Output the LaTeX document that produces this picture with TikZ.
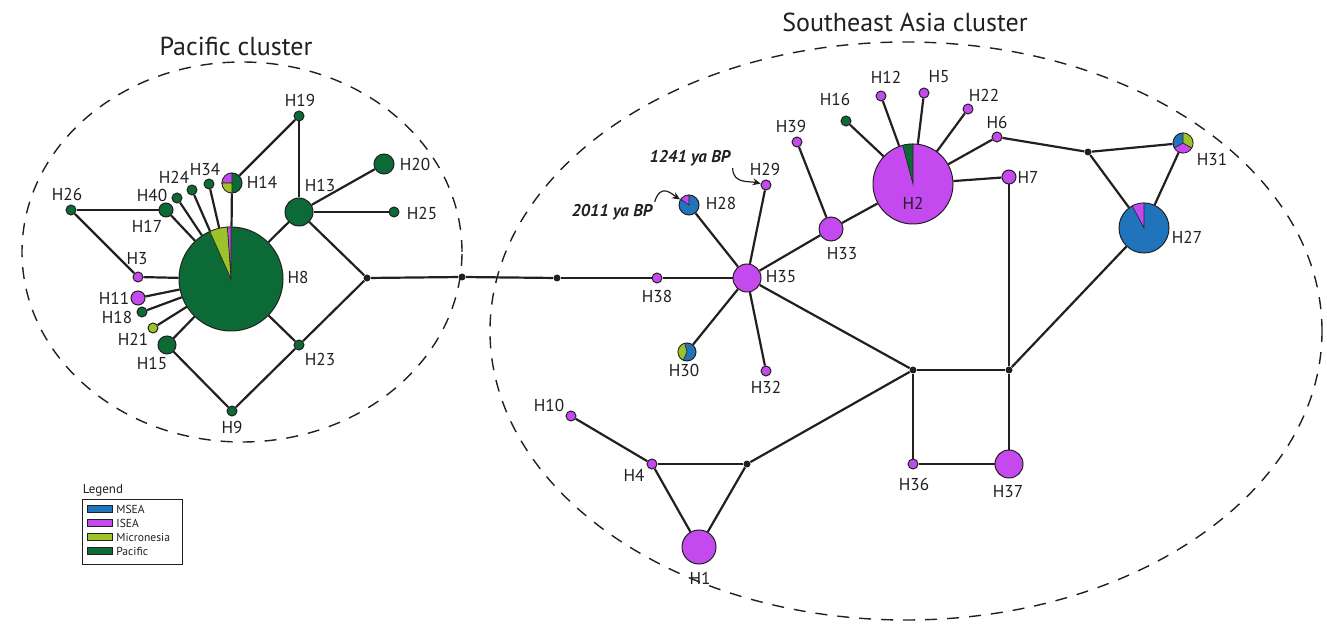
\documentclass[tikz,border=0pt]{standalone}
\usepackage{fontspec}
\setmainfont{PT Sans}
\usetikzlibrary{arrows.meta}

\definecolor{msea}{RGB}{31,116,187}
\definecolor{isea}{RGB}{196,74,240}
\definecolor{micro}{RGB}{157,195,42}
\definecolor{pac}{RGB}{11,106,54}
\definecolor{ink}{RGB}{35,31,32}

\tikzset{
  hap/.style={circle, draw=ink, line width=0.5pt, inner sep=0pt},
  junc/.style={circle, fill=ink, inner sep=0pt, minimum size=3.5pt},
  edge/.style={draw=ink, line width=1.1pt},
  cluster/.style={draw=ink, line width=0.7pt, dash pattern=on 6pt off 5pt},
  lbl/.style={font=\fontsize{8.6}{10}\selectfont, text=ink, inner sep=0pt},
  title/.style={font=\fontsize{13}{15}\selectfont, text=ink},
  datelbl/.style={font=\fontsize{8.5}{10}\selectfont\bfseries\itshape, text=ink, inner sep=1pt},
  swatch/.style={rectangle, draw=ink, line width=0.4pt, minimum width=12.5pt, minimum height=3.5pt, inner sep=0pt},
  legtext/.style={font=\fontsize{5.8}{7}\selectfont, text=ink, inner sep=0pt, anchor=west},
}

% pie slice in a haplotype circle: node, radius, start, end, colour
\newcommand{\hapslice}[5]{%
  \filldraw[fill=#5, draw=ink, line width=0.3pt] (#1.center) -- ++(#3:#2) arc[start angle=#3, end angle=#4, radius=#2] -- cycle;}

\begin{document}
\begin{tikzpicture}[x=0.5pt, y=-0.5pt]
  \useasboundingbox (0,0) rectangle (1327,625);

  % clusters
  \draw[cluster] (242,252) ellipse [x radius=110pt, y radius=95pt];
  \draw[cluster] (906,331) ellipse [x radius=208pt, y radius=144.5pt];
  \node[title] (tpac) at (236,46) {Pacific cluster};
  \node[title] (tsea) at (905,22) {Southeast Asia cluster};

  % haplotypes: name/x/y/size/colour
  \foreach \n/\x/\y/\s/\c in {
    H8/231/279/52/pac, H14/232/183/10/pac, H34/209/184/5/pac, H24/192/190/5/pac,
    H40/177/198/5/pac, H17/166/210/7/pac, H26/71/210/5/pac, H3/138/277/5/isea,
    H11/138/298/7/isea, H18/142/312/5/pac, H21/153/328/5/micro, H15/167/345/9/pac,
    H9/232/411/5/pac, H23/299/345/5/pac, H13/299/212/14/pac, H19/299/116/5/pac,
    H20/384/164/10/pac, H25/394/212/5/pac,
    H38/657/278/5/isea, H35/747/278/14/isea, H28/689/205/10/msea, H29/766/185/5/isea,
    H30/687/352/9/msea, H32/766/371/5/isea, H33/831/229/12/isea, H39/797/142/5/isea,
    H2/913/184/40/isea, H16/846/121/5/pac, H12/881/96/5/isea, H5/924/93/5/isea,
    H22/968/109/5/isea, H6/997/137/5/isea, H7/1009/177/7/isea, H31/1183/143/10/msea,
    H27/1144/228/25/msea, H36/913/464/5/isea, H37/1009/464/14/isea,
    H4/652/464/5/isea, H10/571/416/5/isea, H1/699/547/17/isea}{
    \node[hap, minimum size=\s pt, fill=\c] (\n) at (\x,\y) {};
  }

  % median vectors
  \foreach \n/\x/\y in {j1/367/278, j2/462/277, j3/557/278, j4/1088/152,
    j5/913/370, j6/1009/370, j7/747/464}
    \node[junc] (\n) at (\x,\y) {};

  % links
  \foreach \a/\b in {H8/H14, H8/H34, H8/H24, H8/H40, H8/H17, H8/H3, H8/H11,
    H8/H18, H8/H21, H8/H15, H8/H13, H8/H23, H14/H19, H19/H13, H13/H20, H13/H25,
    H13/j1, H26/H17, H26/H3, H15/H9, H9/H23, H23/j1, j1/j2, j2/j3, j3/H38,
    H38/H35, H35/H28, H35/H29, H35/H30, H35/H32, H35/H33, H35/j5, H33/H39,
    H33/H2, H2/H16, H2/H12, H2/H5, H2/H22, H2/H6, H2/H7, H6/j4, j4/H31, j4/H27,
    H31/H27, H27/j6, H7/j6, j5/j6, j5/H36, H36/H37, j6/H37, j5/j7, j7/H4,
    j7/H1, H4/H1, H4/H10}
    \draw[edge] (\a) -- (\b);

  % mixed haplotypes
  \hapslice{H8}{26pt}{90}{94}{isea}
  \hapslice{H8}{26pt}{94}{114}{micro}
  \hapslice{H14}{5pt}{90}{180}{isea}
  \hapslice{H14}{5pt}{180}{270}{micro}
  \hapslice{H28}{5pt}{90}{145}{isea}
  \hapslice{H30}{4.5pt}{105}{245}{micro}
  \hapslice{H2}{20pt}{90}{105}{pac}
  \hapslice{H27}{12.5pt}{90}{118}{isea}
  \hapslice{H31}{5pt}{210}{330}{isea}
  \hapslice{H31}{5pt}{-30}{90}{micro}

  % labels
  \foreach \n/\x/\y in {H8/298/277, H14/262/182, H34/205/169, H24/174/177,
    H40/152/195, H17/147/226, H26/67/194, H3/137/259, H11/114/298, H18/117/317,
    H21/133/339, H15/152/363, H23/320/359, H9/232/427, H13/320/185, H19/300/100,
    H20/415/164, H25/422/213, H38/657/296, H35/781/277, H28/721/203, H29/765/169,
    H30/684/370, H32/766/387, H33/842/254, H39/791/126, H16/835/99, H2/913/203,
    H12/886/77, H5/939/77, H22/984/95, H6/997/122, H7/1028/177, H31/1212/159,
    H27/1187/237, H36/914/484, H37/1008/492, H4/634/475, H10/549/405, H1/700/578}
    \node[lbl] (l\n) at (\x,\y) {\n};

  % dated nodes
  \node[datelbl] (t2011) at (612,212) {2011 ya BP};
  \node[datelbl] (t1241) at (690,158) {1241 ya BP};
  \draw[ink, line width=0.6pt, -{Stealth[length=4pt, width=3.5pt]}]
    (t2011.north east) .. controls +(6,-20) and +(-16,-10) .. (H28);
  \draw[ink, line width=0.6pt, -{Stealth[length=4pt, width=3.5pt]}]
    (t1241.south east) .. controls +(0,16) and +(-16,-4) .. (H29);

  % legend
  \node[font=\fontsize{6.5}{8}\selectfont, text=ink] (leg) at (103,490) {Legend};
  \draw[ink, line width=0.4pt] (82,499) rectangle (182,564);
  \foreach \c/\t [count=\i] in {msea/MSEA, isea/ISEA, micro/Micronesia, pac/Pacific}{
    \node[swatch, fill=\c] (sw\i) at (99.5,495+14*\i) {};
    \node[legtext] (lt\i) at (116,495+14*\i) {\t};
  }
\end{tikzpicture}
\end{document}
